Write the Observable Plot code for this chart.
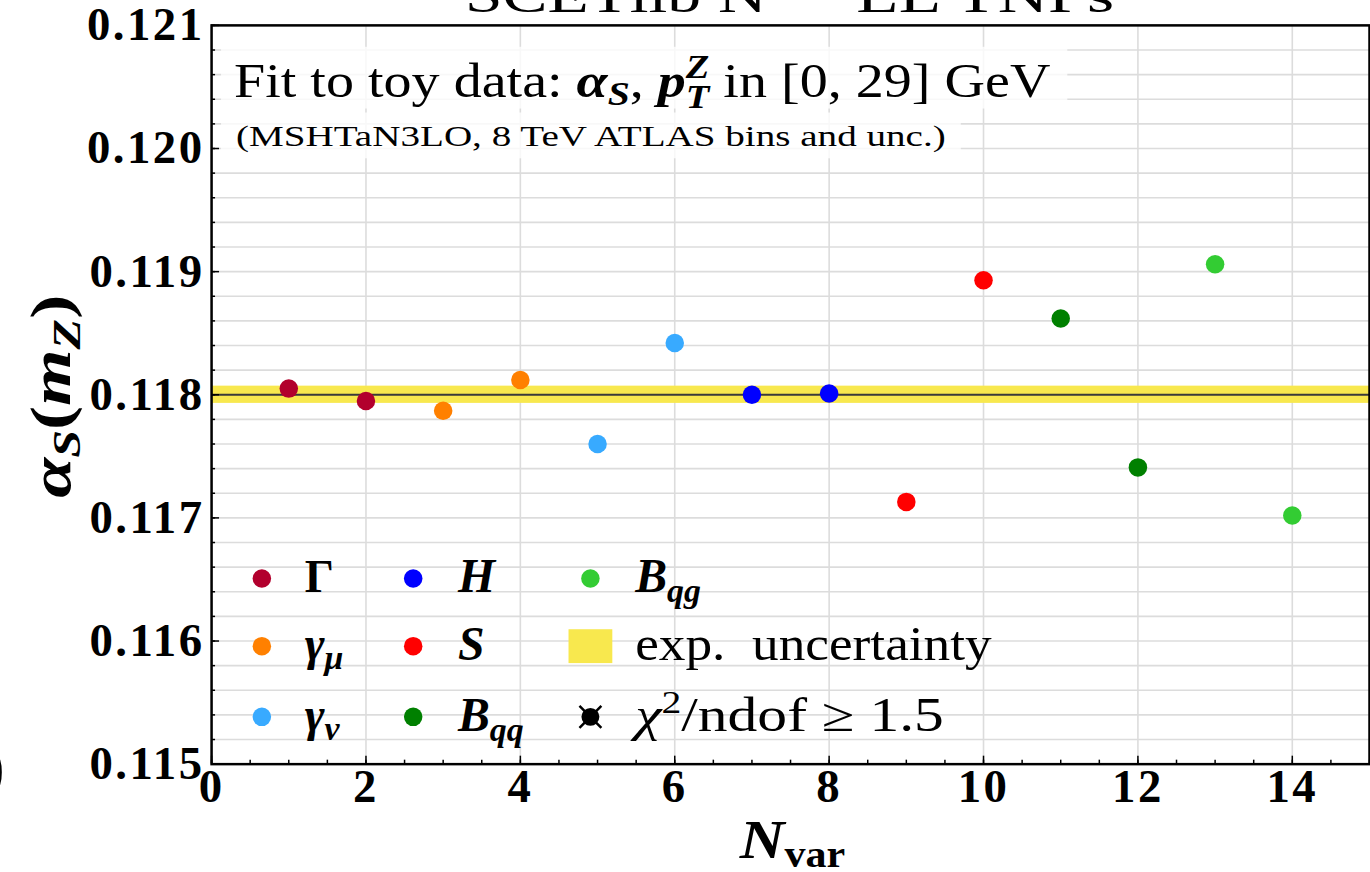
<!DOCTYPE html>
<html>
<head>
<meta charset="utf-8">
<script src="https://cdn.jsdelivr.net/npm/d3@7"></script>
<script src="https://cdn.jsdelivr.net/npm/@observablehq/plot@0.6"></script>
<style>
  html, body { margin: 0; padding: 0; background: #fff; overflow: hidden; }
  #fig { position: relative; width: 1370px; height: 872px; overflow: hidden; }
  #fig svg { display: block; }
  g[aria-label="y-axis tick label"] text,
  g[aria-label="x-axis tick label"] text { letter-spacing: 2.5px; }
</style>
</head>
<body>
<div id="fig"></div>
<script>
// Fitted alpha_s(m_Z) for each theory-nuisance-parameter variation
const nVar   = [1, 2, 3, 4, 5, 6, 7, 8, 9, 10, 11, 12, 13, 14];
const alphaS = [0.11805, 0.11795, 0.11787, 0.11812, 0.11760, 0.11842, 0.11800,
                0.11801, 0.11713, 0.11893, 0.11862, 0.11741, 0.11906, 0.11702];
const param  = ["Gamma", "Gamma", "gamma_mu", "gamma_mu", "gamma_nu", "gamma_nu", "H",
                "H", "S", "S", "B_qq", "B_qq", "B_qg", "B_qg"];

// Parameter groups and their colours
const paramNames  = ["Gamma", "gamma_mu", "gamma_nu", "H", "S", "B_qq", "B_qg"];
const paramColors = ["#b2002d", "#ff8000", "#38aaff", "#0000ff", "#ff0000", "#008000", "#33cc33"];

// Central value and experimental uncertainty band
const alphaRef = 0.118;
const expUnc   = 0.00007;

// Axis ticks
const xTicks = [0, 2, 4, 6, 8, 10, 12, 14];
const yTicks = [0.115, 0.116, 0.117, 0.118, 0.119, 0.120, 0.121];
const xMinor = d3.range(0, 15.001, 0.5);
const yMinor = d3.range(0, 31).map(i => 0.115 + i * 0.0002);

const points = nVar.map((n, i) => ({n, a: alphaS[i], p: param[i]}));
const band = [{lo: alphaRef - expUnc, hi: alphaRef + expUnc}];

const SERIF = "Liberation Serif";
const GRID = "#dcdcdc";
const YELLOW = "#f8e84e";

const chart = Plot.plot({
  width: 1376,
  height: 872,
  marginTop: 25,
  marginRight: 1,
  marginBottom: 105,
  marginLeft: 212,
  x: {domain: [0, 15]},
  y: {domain: [0.115, 0.121]},
  color: {domain: paramNames, range: paramColors},
  style: {fontFamily: SERIF, fontWeight: "bold", fontSize: "48px", background: "#fff", overflow: "visible"},
  marks: [
    Plot.ruleY(yMinor, {stroke: GRID, strokeWidth: 1.6}),
    Plot.ruleX(xTicks, {stroke: GRID, strokeWidth: 1.6}),
    Plot.rect(band, {x1: 0, x2: 15, y1: "lo", y2: "hi", fill: YELLOW}),
    Plot.ruleY([alphaRef], {stroke: "#3a3a3a", strokeWidth: 2.2}),
    Plot.dot(points, {x: "n", y: "a", r: 9.3, fill: "p", stroke: "none"}),
    Plot.frame({stroke: "#000", strokeWidth: 2.5}),
    // inward ticks
    Plot.axisY({ticks: yMinor, tickSize: -4, tickFormat: () => "", label: null, strokeWidth: 1.5}),
    Plot.axisY({ticks: yTicks, tickSize: -8, tickFormat: () => "", label: null, strokeWidth: 1.5}),
    Plot.axisX({ticks: xMinor, tickSize: -4, tickFormat: () => "", label: null, strokeWidth: 1.5}),
    Plot.axisX({ticks: xTicks, tickSize: -8, tickFormat: () => "", label: null, strokeWidth: 1.5}),
    // tick labels
    Plot.axisY({ticks: yTicks, tickSize: 0, tickPadding: 7, tickFormat: d3.format(".3f"), label: null,
                fontSize: 47, fontWeight: "bold"}),
    Plot.axisX({ticks: xTicks, tickSize: 0, tickPadding: 5, tickFormat: d3.format("d"), label: null,
                fontSize: 47, fontWeight: "bold"})
  ]
});

document.getElementById("fig").appendChild(chart);
const svg = d3.select(chart);

// Lays out a run of text pieces (with sub/superscripts) left to right.
function mathText(parent, x, y, pieces, opts = {}) {
  const g = parent.append("g").attr("text-anchor", "start");
  const inner = g.append("g");
  let cursor = 0, prevStart = 0;
  for (const p of pieces) {
    const t = inner.append("text")
      .attr("text-anchor", "start")
      .attr("font-family", p.family || SERIF)
      .attr("font-size", p.size)
      .attr("font-style", p.it ? "italic" : "normal")
      .attr("font-weight", p.bold ? "bold" : "normal")
      .attr("fill", "#000")
      .attr("y", p.dy || 0)
      .style("white-space", "pre")
      .text(p.t);
    const w = t.node().getComputedTextLength();
    if (p.stack) {
      t.attr("x", prevStart + (p.dx || 0));
      cursor = Math.max(cursor, prevStart + (p.dx || 0) + w);
    } else {
      const start = cursor + (p.dx || 0);
      t.attr("x", start);
      prevStart = start;
      cursor = start + w;
    }
  }
  const sx = opts.width ? opts.width / cursor : 1;
  const full = cursor * sx;
  const off = opts.anchor === "middle" ? -full / 2 : opts.anchor === "end" ? -full : 0;
  g.attr("transform", `translate(${x},${y})` + (opts.rotate ? ` rotate(${opts.rotate})` : ""));
  inner.attr("transform", `translate(${off},0) scale(${sx},1)`);
  return g;
}

const overlay = svg.append("g").attr("class", "annotations").attr("text-anchor", "start");

// Title (runs above the frame)
mathText(overlay, 770, 12, [{t: "SCETlib N", size: 48}], {anchor: "end", width: 303});
mathText(overlay, 776, 12, [{t: "3", size: 32, dy: -22}], {});
mathText(overlay, 860, 12, [{t: "LL TNPs", size: 48}], {width: 259});

// Edge of the neighbouring axis title
mathText(overlay, -16, 790, [{t: ")", size: 62, bold: true}], {});

// Fit description boxes
overlay.append("rect").attr("x", 222).attr("y", 47).attr("width", 850).attr("height", 62)
  .attr("fill", "#fff").attr("fill-opacity", 0.8);
overlay.append("rect").attr("x", 222).attr("y", 113).attr("width", 743).attr("height", 46)
  .attr("fill", "#fff").attr("fill-opacity", 0.8);

mathText(overlay, 235, 97, [
  {t: "Fit to toy data: ", size: 48},
  {t: "α", size: 48, it: true, bold: true},
  {t: "S", size: 34, it: true, bold: true, dy: 8},
  {t: ", ", size: 48},
  {t: "p", size: 48, it: true, bold: true},
  {t: "Z", size: 33, it: true, bold: true, dy: -19},
  {t: "T", size: 33, it: true, bold: true, dy: 11, stack: true},
  {t: " in [0, 29] GeV", size: 48}
], {width: 820});

mathText(overlay, 237, 147, [
  {t: "(MSHTaN3LO, 8 TeV ATLAS bins and unc.)", size: 30}
], {width: 713});

// Axis titles
mathText(overlay, 796, 862, [
  {t: "N", size: 56, it: true, bold: true},
  {t: "var", size: 38, bold: true, dy: 9}
], {anchor: "middle", width: 106});

mathText(overlay, 70, 398, [
  {t: "α", size: 58, it: true, bold: true},
  {t: "S", size: 40, it: true, bold: true, dy: 10},
  {t: "(", size: 58, bold: true},
  {t: "m", size: 58, it: true, bold: true},
  {t: "Z", size: 40, it: true, bold: true, dy: 10},
  {t: ")", size: 58, bold: true}
], {anchor: "middle", rotate: -90, width: 204});

// Legend
const legend = overlay.append("g").attr("class", "legend");
const rowY = [581, 649, 720];
const entries = [
  {col: 0, row: 0, color: paramColors[0], label: [{t: "Γ", size: 46, bold: true}]},
  {col: 0, row: 1, color: paramColors[1], label: [{t: "γ", size: 48, it: true, bold: true}, {t: "μ", size: 34, it: true, bold: true, dy: 9}]},
  {col: 0, row: 2, color: paramColors[2], label: [{t: "γ", size: 48, it: true, bold: true}, {t: "ν", size: 34, it: true, bold: true, dy: 9}]},
  {col: 1, row: 0, color: paramColors[3], label: [{t: "H", size: 48, it: true, bold: true}]},
  {col: 1, row: 1, color: paramColors[4], label: [{t: "S", size: 48, it: true, bold: true}]},
  {col: 1, row: 2, color: paramColors[5], label: [{t: "B", size: 48, it: true, bold: true}, {t: "qq", size: 34, it: true, bold: true, dy: 10}]},
  {col: 2, row: 0, color: paramColors[6], label: [{t: "B", size: 48, it: true, bold: true}, {t: "qg", size: 34, it: true, bold: true, dy: 10}]}
];
const markX = [263, 415, 593];
const textX = [306, 460, 638];
for (const e of entries) {
  legend.append("circle").attr("cx", markX[e.col]).attr("cy", rowY[e.row]).attr("r", 9.3).attr("fill", e.color);
  mathText(legend, textX[e.col], rowY[e.row] + 14, e.label);
}
legend.append("rect").attr("x", 571).attr("y", 632).attr("width", 44).attr("height", 34).attr("fill", YELLOW);
mathText(legend, 638, rowY[1] + 14, [{t: "exp.  uncertainty", size: 48}], {width: 358});

legend.append("circle").attr("cx", 593).attr("cy", rowY[2]).attr("r", 9).attr("fill", "#000");
legend.append("path")
  .attr("d", `M${593 - 11},${rowY[2] - 11}L${593 + 11},${rowY[2] + 11}M${593 - 11},${rowY[2] + 11}L${593 + 11},${rowY[2] - 11}`)
  .attr("stroke", "#000").attr("stroke-width", 2.5);
mathText(legend, 638, rowY[2] + 14, [
  {t: "χ", size: 48, it: true},
  {t: "2", size: 32, dy: -18},
  {t: "/ndof ≥ 1.5", size: 48}
], {width: 310});
</script>
</body>
</html>
